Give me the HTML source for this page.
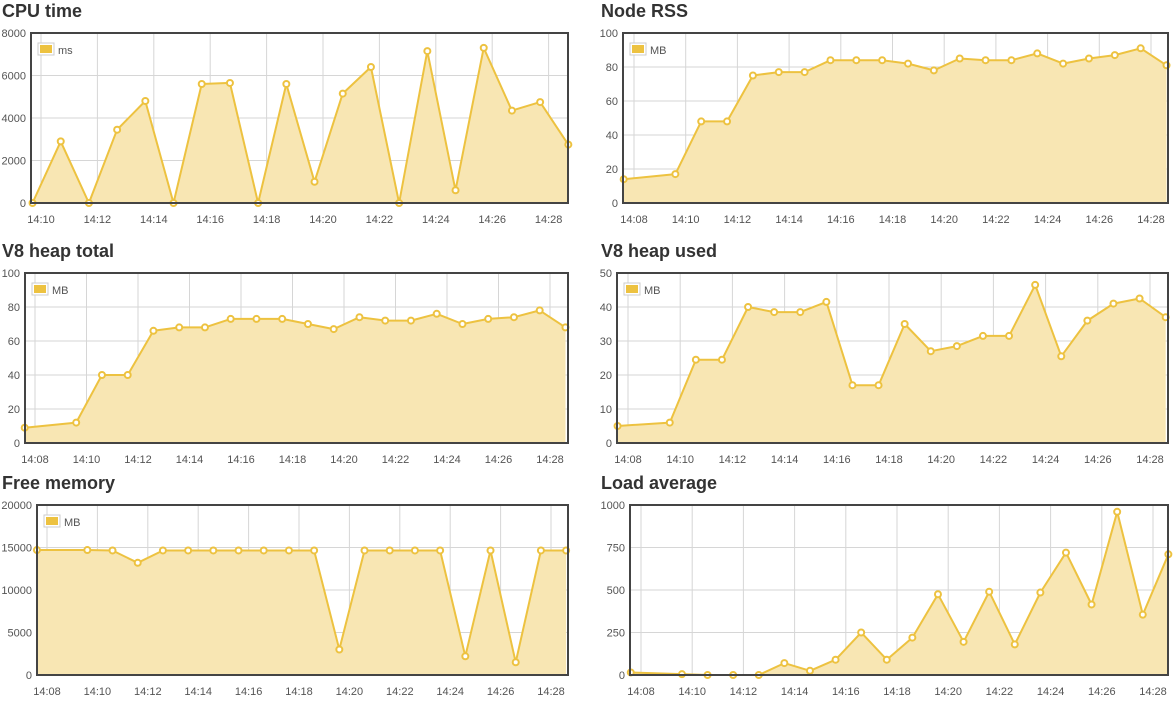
<!DOCTYPE html>
<html><head><meta charset="utf-8">
<style>
html,body{margin:0;padding:0;background:#fff;}
svg{display:block;font-family:"Liberation Sans",Arial,sans-serif;}
</style></head>
<body>
<svg id="c" width="1175" height="705"></svg>
<script>
const tAll=[7.6,9.6,10.6,11.6,12.6,13.6,14.6,15.6,16.6,17.6,18.6,19.6,20.6,21.6,22.6,23.6,24.6,25.6,26.6,27.6,28.6];
const tCpu=[9.7,10.7,11.7,12.7,13.7,14.7,15.7,16.7,17.7,18.7,19.7,20.7,21.7,22.7,23.7,24.7,25.7,26.7,27.7,28.7];
const cpuValues=[0,2900,0,3450,4800,0,5600,5650,0,5600,1000,5150,6400,0,7150,600,7300,4350,4750,2750];
const rssValues=[14,17,48,48,75,77,77,84,84,84,82,78,85,84,84,88,82,85,87,91,81];
const heapTotalValues=[9,12,40,40,66,68,68,73,73,73,70,67,74,72,72,76,70,73,74,78,68];
const heapUsedValues=[5,6,24.5,24.5,40,38.5,38.5,41.5,17,17,35,27,28.5,31.5,31.5,46.5,25.5,36,41,42.5,37];
const freeValues=[14700,14700,14650,13200,14650,14650,14650,14650,14650,14650,14650,3000,14650,14650,14650,14650,2200,14650,1500,14650,14650];
const loadValues=[15,5,0,0,0,70,25,90,250,90,220,475,195,490,180,485,720,415,960,355,710];
const cpuYTicks=[0,2000,4000,6000,8000];
const pctYTicks=[0,20,40,60,80,100];
const heapUsedYTicks=[0,10,20,30,40,50];
const freeYTicks=[0,5000,10000,15000,20000];
const loadYTicks=[0,250,500,750,1000];
const xTicksCpu=[10,12,14,16,18,20,22,24,26,28];
const xTicksAll=[8,10,12,14,16,18,20,22,24,26,28];

const charts=[
 {name:'cpu-time',title:'CPU time',unit:'ms',tx:2,ty:17,L:31,R:568,T:33,B:203,x0:-15.4,ppm:28.2,ymax:8000,yt:cpuYTicks,xt:xTicksCpu,t:tCpu,v:cpuValues},
 {name:'node-rss',title:'Node RSS',unit:'MB',tx:601,ty:17,L:623,R:1168,T:33,B:203,x0:634,ppm:25.85,ymax:100,yt:pctYTicks,xt:xTicksAll,t:tAll,v:rssValues},
 {name:'v8-heap-total',title:'V8 heap total',unit:'MB',tx:2,ty:257,L:25,R:568,T:273,B:443,x0:35,ppm:25.75,ymax:100,yt:pctYTicks,xt:xTicksAll,t:tAll,v:heapTotalValues},
 {name:'v8-heap-used',title:'V8 heap used',unit:'MB',tx:601,ty:257,L:617,R:1168,T:273,B:443,x0:628,ppm:26.1,ymax:50,yt:heapUsedYTicks,xt:xTicksAll,t:tAll,v:heapUsedValues},
 {name:'free-memory',title:'Free memory',unit:'MB',tx:2,ty:489,L:37,R:568,T:505,B:675,x0:47,ppm:25.2,ymax:20000,yt:freeYTicks,xt:xTicksAll,t:tAll,v:freeValues},
 {name:'load-average',title:'Load average',unit:'',tx:601,ty:489,L:630,R:1168,T:505,B:675,x0:641,ppm:25.6,ymax:1000,yt:loadYTicks,xt:xTicksAll,t:tAll,v:loadValues}
];
const NS='http://www.w3.org/2000/svg';
const svg=document.getElementById('c');
function mk(tag,attrs,parent){const e=document.createElementNS(NS,tag);for(const k in attrs)e.setAttribute(k,attrs[k]);(parent||svg).appendChild(e);return e;}
charts.forEach(c=>{
 const g=mk('g',{});
 
 
 const xs=m=>c.x0+(m-8)*c.ppm;
 const ys=v=>c.B-(v/c.ymax)*(c.B-c.T);
 const title=mk('text',{x:c.tx,y:c.ty,'font-size':18,'font-weight':'bold',fill:'#333'},g);
 title.textContent=c.title;
 
 
 c.yt.forEach(v=>{
  const y=ys(v);
  const gl=mk('line',{x1:c.L,x2:c.R,y1:y,y2:y,stroke:'#d6d6d6','stroke-width':1},g);
  
  
  const tl=mk('text',{x:c.L-5,y:y+4,'font-size':11,fill:'#545454','text-anchor':'end'},g);
  tl.textContent=v;
  
  
 });
 c.xt.forEach(m=>{
  const x=xs(m);
  const gl=mk('line',{x1:x,x2:x,y1:c.T,y2:c.B,stroke:'#d6d6d6','stroke-width':1},g);
  
  
  const tl=mk('text',{x:x,y:c.B+20,'font-size':11,fill:'#545454','text-anchor':'middle'},g);
  tl.textContent='14:'+String(m).padStart(2,'0');
  
  
 });
 let d='';
 c.t.forEach((m,i)=>{d+=(i?'L':'M')+xs(m).toFixed(1)+','+ys(c.v[i]).toFixed(1);});
 const area=mk('path',{d:d+'L'+xs(c.t[c.t.length-1]).toFixed(1)+','+c.B+'L'+xs(c.t[0]).toFixed(1)+','+c.B+'Z',fill:'#f8e6b3'},g);
 
 
 const line=mk('path',{d:d,fill:'none',stroke:'#edc240','stroke-width':2,'stroke-linejoin':'round'},g);
 
 
 c.t.forEach((m,i)=>{
  const p=mk('circle',{cx:xs(m),cy:ys(c.v[i]),r:3,fill:'#fff',stroke:'#edc240','stroke-width':2},g);
  
  
 });
 const frame=mk('rect',{x:c.L,y:c.T,width:c.R-c.L,height:c.B-c.T,fill:'none',stroke:'#444','stroke-width':2},g);
 
 
 if(c.unit){
  const lg=mk('g',{},g);
  
  
  mk('rect',{x:c.L+7,y:c.T+10,width:16,height:12,fill:'#fff',stroke:'#ccc'},lg);
  mk('rect',{x:c.L+9,y:c.T+12,width:12,height:8,fill:'#edc240'},lg);
  const lt=mk('text',{x:c.L+27,y:c.T+21,'font-size':11,fill:'#545454'},lg);
  lt.textContent=c.unit;
 }
});
</script>
</body></html>
